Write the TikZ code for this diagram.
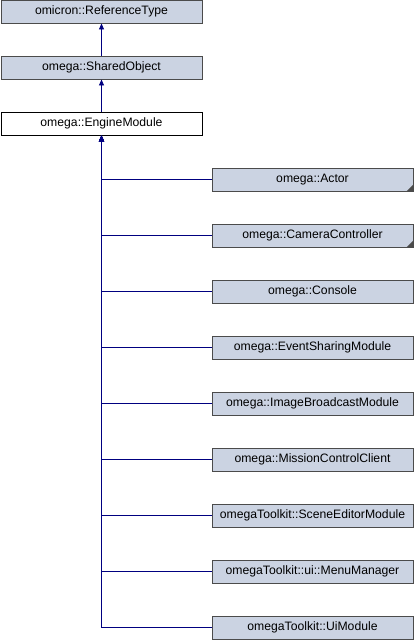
\documentclass[tikz,border=0pt]{standalone}
\usepackage{fontspec}
\setmainfont{Liberation Sans}
\usetikzlibrary{arrows.meta}
\definecolor{boxfill}{HTML}{CBD3E2}
\definecolor{boxline}{HTML}{4B4B4B}
\definecolor{edge}{HTML}{000080}
\begin{document}
\begin{tikzpicture}[x=1pt,y=-1pt,
  cls/.style={draw=boxline,fill=boxfill,line width=0.9pt,minimum width=201pt,minimum height=23pt,inner sep=0pt,font=\fontsize{12.2}{14}\selectfont},
  cur/.style={draw=black,fill=white,line width=0.9pt,minimum width=201pt,minimum height=23pt,inner sep=0pt,font=\fontsize{12.2}{14}\selectfont},
  inh/.style={draw=edge,line width=0.9pt,-{Triangle[length=6pt,width=5pt]}},
  more/.style={fill=boxline,draw=none}]
\useasboundingbox (0,0) rectangle (414,640);
\node[cls] (ref) at (101.5,11.5) {omicron::ReferenceType};
\node[cls] (shared) at (101.5,67.5) {omega::SharedObject};
\node[cur] (engine) at (101.5,123.5) {omega::EngineModule};
\draw[inh] (shared.north) -- (ref.south);
\draw[inh] (engine.north) -- (shared.south);
\foreach \n/\t [count=\i from 0] in {actor/omega::Actor, cam/omega::CameraController, console/omega::Console, evt/omega::EventSharingModule, img/omega::ImageBroadcastModule, mission/omega::MissionControlClient, scene/omegaToolkit::SceneEditorModule, menu/omegaToolkit::ui::MenuManager, ui/omegaToolkit::UiModule}{
  \node[cls] (\n) at (312.5,{179.5+56*\i}) {\t};
}
\foreach \n in {actor,cam,console,evt,img,mission,scene,menu,ui}{
  \draw[inh] (\n.west) -| (engine.south);
}
\foreach \n in {actor,cam}{
  \fill[more] ([xshift=-0.5pt,yshift=0.5pt]\n.south east) -- ++(0,-6) -- ++(-6,6) -- cycle;
}
\end{tikzpicture}
\end{document}
